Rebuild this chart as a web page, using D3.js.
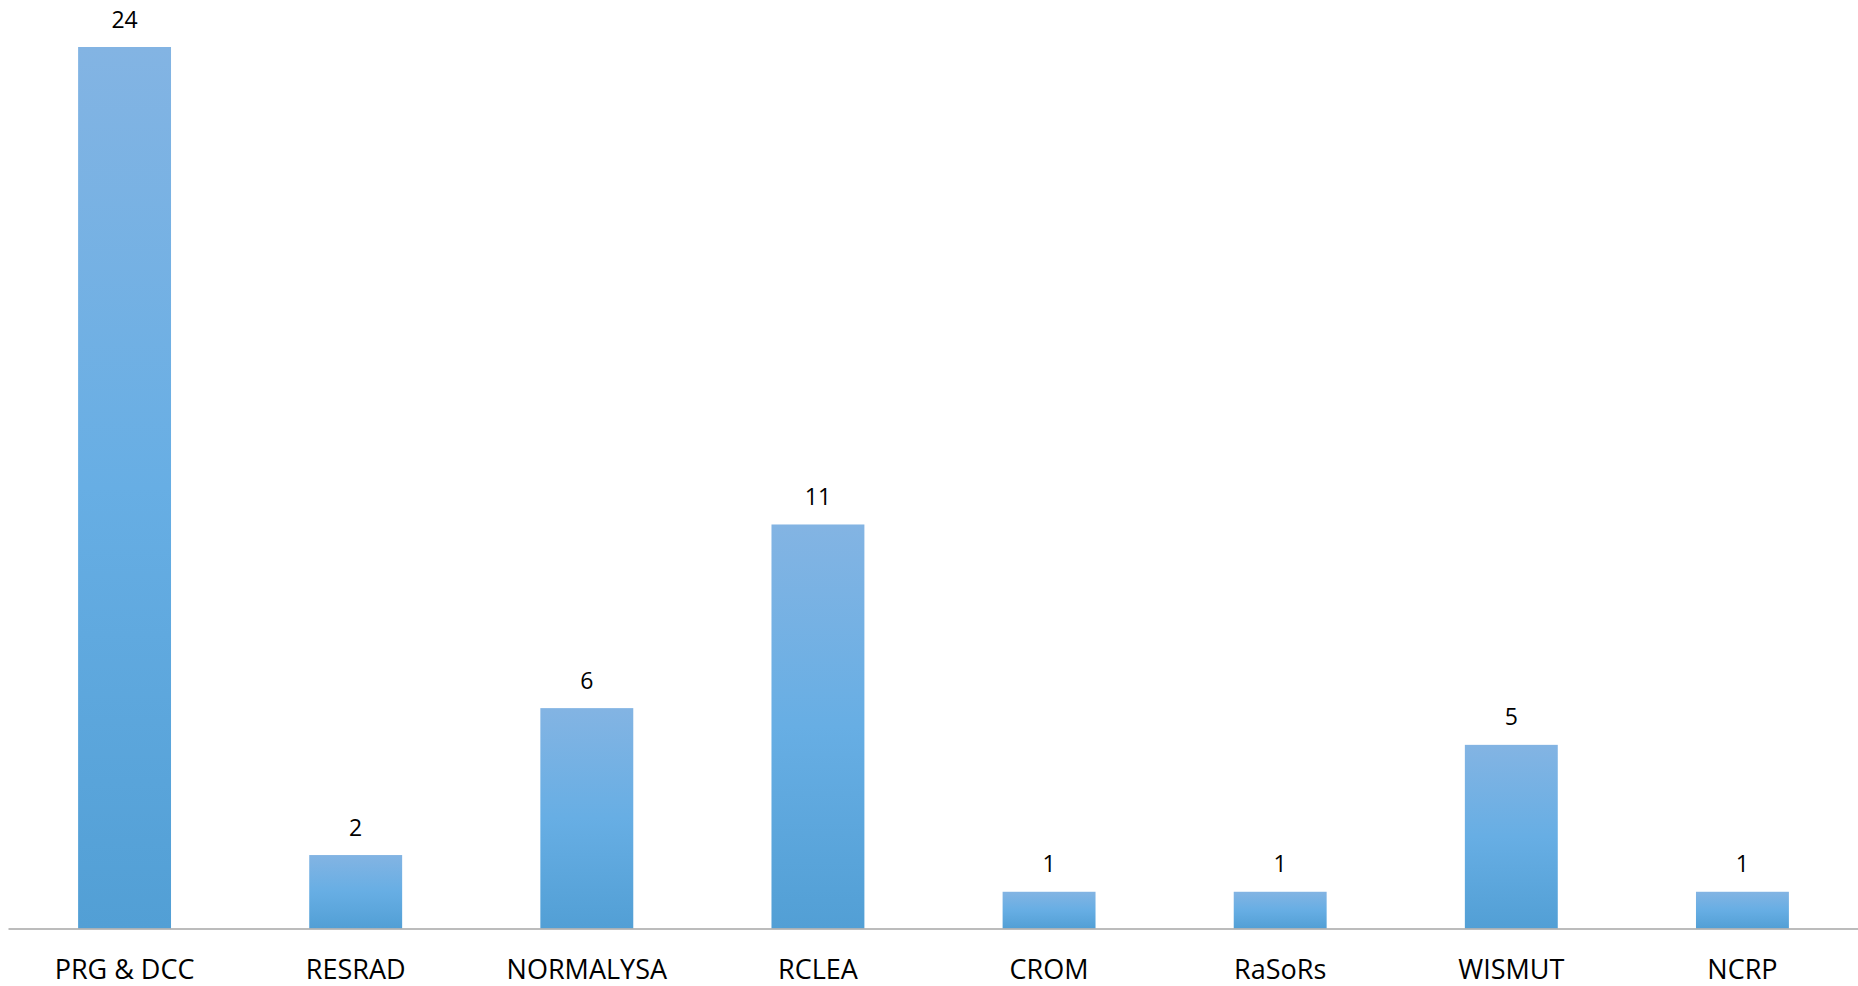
<!DOCTYPE html>
<html>
<head>
<meta charset="utf-8">
<script src="https://cdn.jsdelivr.net/npm/d3@7"></script>
<style>
  html, body { margin: 0; padding: 0; background: #ffffff; }
  svg { display: block; }
</style>
</head>
<body>
<svg id="chart" width="1858" height="986"></svg>
<script>
const categories = ["PRG & DCC", "RESRAD", "NORMALYSA", "RCLEA", "CROM", "RaSoRs", "WISMUT", "NCRP"];
const values = [24, 2, 6, 11, 1, 1, 5, 1];

const W = 1858, H = 986;
const svg = d3.select("#chart");

const x = d3.scaleBand()
  .domain(categories)
  .range([9, 1858])
  .paddingInner(0.598)
  .paddingOuter(0.299);

const y = d3.scaleLinear()
  .domain([0, 24])
  .range([928.5, 47]);

const defs = svg.append("defs");
const grad = defs.append("linearGradient")
  .attr("id", "barGrad")
  .attr("x1", 0).attr("y1", 0).attr("x2", 0).attr("y2", 1);
grad.append("stop").attr("offset", "0%").attr("stop-color", "#83b4e3");
grad.append("stop").attr("offset", "50%").attr("stop-color", "#67aee4");
grad.append("stop").attr("offset", "100%").attr("stop-color", "#529fd5");

const data = categories.map((c, i) => ({ c, v: values[i] }));

svg.append("g").selectAll("rect")
  .data(data)
  .join("rect")
  .attr("x", d => x(d.c))
  .attr("width", x.bandwidth())
  .attr("y", d => y(d.v))
  .attr("height", d => y(0) - y(d.v))
  .attr("fill", "url(#barGrad)");

// axis
const axis = d3.axisBottom(x).tickSize(0).tickPadding(0);
const gAxis = svg.append("g")
  .attr("transform", `translate(0,${y(0)})`)
  .call(axis);
gAxis.select(".domain")
  .attr("d", `M8.5,0.5H1858`)
  .attr("stroke", "#a6a6a6")
  .attr("stroke-width", 1.5);
gAxis.selectAll(".tick text")
  .attr("dy", null)
  .attr("y", 50)
  .attr("font-family", "'Open Sans', sans-serif")
  .attr("font-size", 27)
  .attr("fill", "#000");

// value labels
svg.append("g").selectAll("text")
  .data(data)
  .join("text")
  .attr("x", d => x(d.c) + x.bandwidth() / 2)
  .attr("y", d => y(d.v) - 19.5)
  .attr("text-anchor", "middle")
  .attr("font-family", "'Open Sans', sans-serif")
  .attr("font-size", 23)
  .attr("fill", "#000")
  .text(d => d.v);
</script>
</body>
</html>
